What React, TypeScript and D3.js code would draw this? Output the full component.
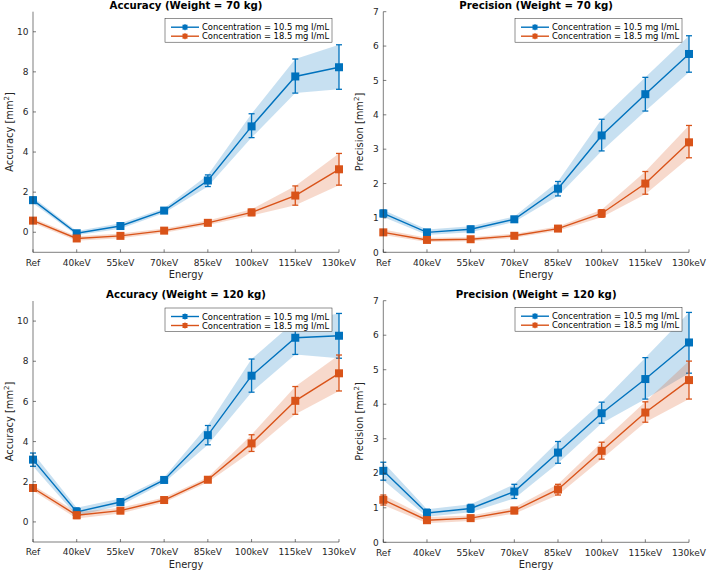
import React from 'react';
import { scalePoint, scaleLinear, line, area } from 'd3';

const energies = ['Ref', '40keV', '55keV', '70keV', '85keV', '100keV', '115keV', '130keV'];
const seriesLabels = ['Concentration = 10.5 mg I/mL', 'Concentration = 18.5 mg I/mL'];
const colors = ['#0072BD', '#D95319'];

// Accuracy, 70 kg
const acc70Low = [1.6, -0.05, 0.31, 1.08, 2.58, 5.28, 7.77, 8.23];
const acc70LowLo = [1.45, -0.15, 0.17, 0.96, 2.28, 4.72, 6.94, 7.13];
const acc70LowHi = [1.75, 0.06, 0.45, 1.2, 2.86, 5.91, 8.64, 9.35];
const acc70High = [0.58, -0.31, -0.18, 0.08, 0.47, 0.99, 1.83, 3.14];
const acc70HighLo = [0.46, -0.42, -0.3, -0.03, 0.36, 0.83, 1.35, 2.35];
const acc70HighHi = [0.7, -0.2, -0.06, 0.19, 0.58, 1.15, 2.31, 3.93];

// Precision, 70 kg
const prec70Low = [1.13, 0.58, 0.67, 0.96, 1.85, 3.4, 4.6, 5.77];
const prec70LowLo = [1.03, 0.5, 0.58, 0.88, 1.64, 2.95, 4.11, 5.24];
const prec70LowHi = [1.23, 0.66, 0.76, 1.04, 2.06, 3.87, 5.09, 6.3];
const prec70High = [0.58, 0.36, 0.38, 0.48, 0.69, 1.13, 2.0, 3.2];
const prec70HighLo = [0.5, 0.3, 0.32, 0.42, 0.63, 1.02, 1.69, 2.75];
const prec70HighHi = [0.66, 0.42, 0.44, 0.54, 0.75, 1.24, 2.35, 3.69];

// Accuracy, 120 kg
const acc120Low = [3.1, 0.5, 0.99, 2.09, 4.32, 7.28, 9.17, 9.27];
const acc120LowLo = [2.77, 0.3, 0.82, 1.95, 3.84, 6.46, 8.34, 8.15];
const acc120LowHi = [3.43, 0.7, 1.16, 2.23, 4.8, 8.11, 10.0, 10.38];
const acc120High = [1.69, 0.33, 0.56, 1.09, 2.1, 3.91, 6.03, 7.4];
const acc120HighLo = [1.55, 0.17, 0.42, 0.97, 1.97, 3.51, 5.36, 6.52];
const acc120HighHi = [1.83, 0.49, 0.7, 1.21, 2.23, 4.34, 6.74, 8.31];

// Precision, 120 kg
const prec120Low = [2.07, 0.85, 0.98, 1.47, 2.6, 3.74, 4.73, 5.79];
const prec120LowLo = [1.8, 0.74, 0.87, 1.27, 2.29, 3.45, 4.15, 4.9];
const prec120LowHi = [2.32, 0.96, 1.1, 1.68, 2.92, 4.06, 5.35, 6.66];
const prec120High = [1.23, 0.64, 0.7, 0.92, 1.53, 2.65, 3.76, 4.7];
const prec120HighLo = [1.08, 0.55, 0.62, 0.83, 1.37, 2.41, 3.48, 4.15];
const prec120HighHi = [1.37, 0.73, 0.78, 1.01, 1.68, 2.9, 4.07, 5.25];

const accTicks = [0, 2, 4, 6, 8, 10];
const precTicks = [0, 1, 2, 3, 4, 5, 6, 7];

const FONT = '"DejaVu Sans", sans-serif';
const AXIS = '#262626';

type Series = { mean: number[]; lo: number[]; hi: number[] };

type PanelProps = {
  title: string;
  yLabel: string;
  left: number;
  right: number;
  top: number;
  bottom: number;
  domain: [number, number];
  ticks: number[];
  series: Series[];
};

const Panel = ({ title, yLabel, left, right, top, bottom, domain, ticks, series }: PanelProps) => {
  const x = scalePoint<string>().domain(energies).range([left, right]).padding(0);
  const y = scaleLinear().domain(domain).range([bottom, top]);
  const idx = energies.map((_, i) => i);

  const band = area<number>()
    .x((i) => x(energies[i]) as number);

  const path = line<number>()
    .x((i) => x(energies[i]) as number);

  const cx = (left + right) / 2;
  const lgW = 167;
  const lgX = right - 7 - lgW;
  const lgY = top + 7;

  return (
    <g>
      <text x={cx} y={top - 3} textAnchor="middle" fontFamily={FONT} fontSize={10.2} fontWeight="bold" fill="#000">
        {title}
      </text>

      {series.map((s, k) => (
        <g key={k}>
          <path
            d={band.y0((i) => y(s.lo[i])).y1((i) => y(s.hi[i]))(idx) as string}
            fill={colors[k]}
            fillOpacity={0.22}
            stroke="none"
          />
          <path d={path.y((i) => y(s.mean[i]))(idx) as string} fill="none" stroke={colors[k]} strokeWidth={1.4} />
          {idx.map((i) => {
            const px = x(energies[i]) as number;
            return (
              <g key={i} stroke={colors[k]} strokeWidth={1.3}>
                <line x1={px} x2={px} y1={y(s.lo[i])} y2={y(s.hi[i])} />
                <line x1={px - 3} x2={px + 3} y1={y(s.lo[i])} y2={y(s.lo[i])} />
                <line x1={px - 3} x2={px + 3} y1={y(s.hi[i])} y2={y(s.hi[i])} />
                <rect x={px - 4} y={y(s.mean[i]) - 4} width={8} height={8} fill={colors[k]} stroke="none" />
              </g>
            );
          })}
        </g>
      ))}

      {/* axes */}
      <line x1={left} x2={left} y1={top} y2={bottom} stroke={AXIS} strokeWidth={0.6} />
      <line x1={left} x2={right} y1={bottom} y2={bottom} stroke={AXIS} strokeWidth={0.6} />
      {ticks.map((t) => (
        <g key={t}>
          <line x1={left} x2={left + 3} y1={y(t)} y2={y(t)} stroke={AXIS} strokeWidth={0.6} />
          <text x={left - 4.5} y={y(t) + 3.2} textAnchor="end" fontFamily={FONT} fontSize={9} fill={AXIS}>
            {t}
          </text>
        </g>
      ))}
      {energies.map((e) => (
        <g key={e}>
          <line x1={x(e)} x2={x(e)} y1={bottom} y2={bottom - 3} stroke={AXIS} strokeWidth={0.6} />
          <text x={x(e)} y={bottom + 13.4} textAnchor="middle" fontFamily={FONT} fontSize={9} fill={AXIS}>
            {e}
          </text>
        </g>
      ))}
      <text x={cx} y={bottom + 25.5} textAnchor="middle" fontFamily={FONT} fontSize={9.9} fill={AXIS}>
        Energy
      </text>
      <text
        transform={`translate(${left - 20.5},${(top + bottom) / 2}) rotate(-90)`}
        textAnchor="middle"
        fontFamily={FONT}
        fontSize={9.9}
        fill={AXIS}
      >
        {yLabel} [mm<tspan dy={-4} fontSize={7}>2</tspan><tspan dy={4}>]</tspan>
      </text>

      {/* legend */}
      <rect x={lgX} y={lgY} width={lgW} height={23.5} fill="#fff" stroke={AXIS} strokeWidth={0.5} />
      {seriesLabels.map((lab, k) => {
        const ly = lgY + 8.5 + k * 9;
        return (
          <g key={lab}>
            <line x1={lgX + 6} x2={lgX + 34} y1={ly} y2={ly} stroke={colors[k]} strokeWidth={1.4} />
            <line x1={lgX + 20} x2={lgX + 20} y1={ly - 3} y2={ly + 3} stroke={colors[k]} strokeWidth={1.2} />
            <rect x={lgX + 17.5} y={ly - 2.5} width={5} height={5} fill={colors[k]} />
            <text x={lgX + 37} y={ly + 3} fontFamily={FONT} fontSize={8.4} fill="#000">
              {lab}
            </text>
          </g>
        );
      })}
    </g>
  );
};

const App = () => (
  <svg width={708} height={571} style={{ position: 'absolute', left: 0, top: 0, background: '#fff' }}>
    <rect width={708} height={571} fill="#fff" />
    <Panel
      title="Accuracy (Weight = 70 kg)"
      yLabel="Accuracy"
      left={33}
      right={339}
      top={11.7}
      bottom={252.3}
      domain={[-1, 11]}
      ticks={accTicks}
      series={[
        { mean: acc70Low, lo: acc70LowLo, hi: acc70LowHi },
        { mean: acc70High, lo: acc70HighLo, hi: acc70HighHi },
      ]}
    />
    <Panel
      title="Precision (Weight = 70 kg)"
      yLabel="Precision"
      left={383.3}
      right={689}
      top={11.7}
      bottom={252.3}
      domain={[0, 7]}
      ticks={precTicks}
      series={[
        { mean: prec70Low, lo: prec70LowLo, hi: prec70LowHi },
        { mean: prec70High, lo: prec70HighLo, hi: prec70HighHi },
      ]}
    />
    <Panel
      title="Accuracy (Weight = 120 kg)"
      yLabel="Accuracy"
      left={33}
      right={339}
      top={301}
      bottom={542}
      domain={[-1, 11]}
      ticks={accTicks}
      series={[
        { mean: acc120Low, lo: acc120LowLo, hi: acc120LowHi },
        { mean: acc120High, lo: acc120HighLo, hi: acc120HighHi },
      ]}
    />
    <Panel
      title="Precision (Weight = 120 kg)"
      yLabel="Precision"
      left={383.3}
      right={689}
      top={300.7}
      bottom={542.3}
      domain={[0, 7]}
      ticks={precTicks}
      series={[
        { mean: prec120Low, lo: prec120LowLo, hi: prec120LowHi },
        { mean: prec120High, lo: prec120HighLo, hi: prec120HighHi },
      ]}
    />
  </svg>
);

export default App;
